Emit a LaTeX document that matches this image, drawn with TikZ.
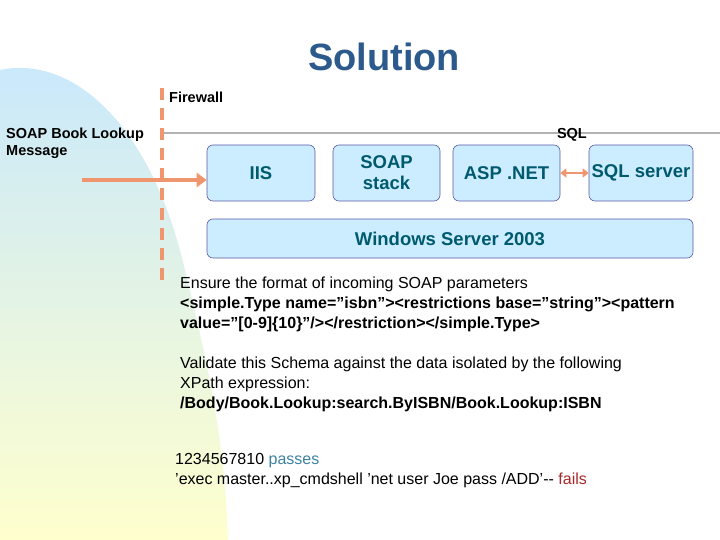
\documentclass[tikz,border=0pt]{standalone}
\usepackage{fontspec}
\setmainfont{Liberation Sans}
\usetikzlibrary{arrows.meta}
\begin{document}
\begin{tikzpicture}[x=1pt,y=-1pt,
 box/.style={draw=gray!70!blue,fill=boxfill,rounded corners=6pt,line width=0.6pt,align=center,text=boxtxt,font=\fontsize{18.5}{21}\selectfont\bfseries,inner sep=0pt},
 lbl/.style={font=\fontsize{14.5}{17}\selectfont\bfseries},
 body/.style={anchor=north west,align=left,font=\fontsize{16}{19.8}\selectfont,inner sep=0pt}]
\definecolor{boxfill}{RGB}{204,236,255}
\definecolor{boxtxt}{RGB}{0,90,110}
\definecolor{fw}{RGB}{240,150,110}
\definecolor{ttl}{RGB}{45,90,140}
\useasboundingbox (0,0) rectangle (720,540);
\shade[top color={rgb,255:red,200;green,232;blue,252},bottom color={rgb,255:red,255;green,255;blue,205}]
 (0,70) .. controls (70,55) and (150,120) .. (185,270) .. controls (212,380) and (225,450) .. (228,540) -- (0,540) -- cycle;
\node[font=\fontsize{38}{40}\selectfont\bfseries,text=ttl] (title) at (384,57) {Solution};
\coordinate (g1) at (162,133); \coordinate (g2) at (720,133);
\draw[gray!60,line width=1.2pt] (g1) -- (g2);
\coordinate (f1) at (162,88); \coordinate (f2) at (162,286);
\draw[fw,line width=3.5pt,dash pattern=on 12pt off 8pt] (f1) -- (f2);
\node[lbl,anchor=west,inner sep=0pt] (fwl) at (169,97) {Firewall};
\node[lbl,anchor=east,inner sep=0pt] (sql) at (587,135) {SQL};
\node[lbl,anchor=north west,align=left,inner sep=0pt] (msg) at (6,128) {SOAP Book Lookup\\Message};
\node[box,minimum width=108pt,minimum height=56pt] (iis) at (261,173) {IIS};
\node[box,minimum width=107pt,minimum height=56pt] (soap) at (386.5,173) {SOAP\\stack};
\node[box,minimum width=107pt,minimum height=56pt] (asp) at (506.5,173) {ASP .NET};
\node[box,minimum width=104pt,minimum height=56pt] (sqls) at (641,173) {SQL server};
\node[box,minimum width=486pt,minimum height=39pt] (win) at (450,238.5) {Windows Server 2003};
\coordinate (a0) at (82,180);
\draw[fw,line width=4.5pt,-{Triangle[length=10pt,width=14pt]}] (a0) -- (iis.west|-a0);
\draw[fw,line width=2.5pt,{Triangle[length=6pt,width=9pt]}-{Triangle[length=6pt,width=9pt]}] (asp.east) -- (sqls.west);
\node[body] (t1) at (180,277) {Ensure the format of incoming SOAP parameters\\
\textbf{<simple.Type name=”isbn”><restrictions base=”string”><pattern}\\
\textbf{value=”[0-9]\{10\}”/></restriction></simple.Type>}};
\node[body] (t2) at (180,357) {Validate this Schema against the data isolated by the following\\
XPath expression:\\
\textbf{/Body/Book.Lookup:search.ByISBN/Book.Lookup:ISBN}};
\node[body] (t3) at (175,453) {1234567810 \textcolor[RGB]{60,130,160}{passes}\\
’exec master..xp\_cmdshell ’net user Joe pass /ADD’-{}- \textcolor[RGB]{170,40,40}{fails}};
\end{tikzpicture}
\end{document}
